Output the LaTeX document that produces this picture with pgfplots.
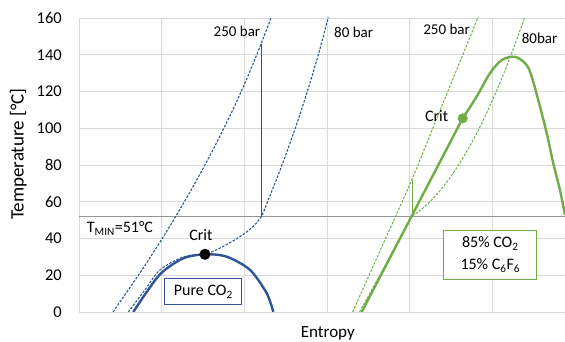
\documentclass[border=0pt]{standalone}
\usepackage{pgfplots}
\pgfplotsset{compat=1.18}
\usepackage{fontspec}
\setmainfont{Carlito}
\definecolor{cblue}{RGB}{47,85,151}
\definecolor{cgreen}{RGB}{112,173,71}
\definecolor{cgrid}{RGB}{217,217,217}
\definecolor{ctmin}{RGB}{150,150,150}
\begin{document}
\begin{tikzpicture}
\begin{axis}[
  scale only axis, width=486pt, height=294pt,
  xmin=0, xmax=5.88, ymin=0, ymax=160,
  xtick={0,1,2,3,4,5}, xticklabels={},
  ytick={0,20,...,160},
  grid=major, major grid style={cgrid, line width=0.9pt},
  axis line style={draw=none},
  major tick length=0pt,
  /pgf/number format/assume math mode=true,
  tick label style={font=\fontsize{16.5}{19}\selectfont},
  yticklabel style={anchor=east, inner sep=0pt, xshift=-17pt},
  ylabel={Temperature [°C]},
  xlabel={Entropy},
  every axis y label/.style={at={(axis description cs:-0.125,0.537)}, rotate=90, anchor=center, font=\fontsize{19}{22}\selectfont},
  every axis x label/.style={at={(axis description cs:0.512,-0.0714)}, anchor=center, font=\fontsize{17}{20}\selectfont},
]
% T min line
\addplot[ctmin, line width=1pt] coordinates {(0,52.2) (5.88,52.2)};

% Pure CO2: 250 bar isobar
\addplot[cblue, line width=1.1pt, dash pattern=on 2.5pt off 1.5pt, smooth] coordinates {
  (0.411,0) (0.745,21.8) (1.056,43.5) (1.343,65.3) (1.607,87.1) (1.848,108.8) (2.065,130.6) (2.259,152.4) (2.322,160)};
% Pure CO2: 80 bar isobar
\addplot[cblue, line width=1.1pt, dash pattern=on 2.5pt off 1.5pt, smooth] coordinates {
  (0.596,0) (0.798,12) (0.98,22.9) (1.258,29.9) (1.524,31.6) (1.645,33.5) (1.787,36.7) (1.911,40.0) (2.020,43.3) (2.117,47.1) (2.210,52.2) (2.290,61.0) (2.424,76.2) (2.558,92.5) (2.683,108.8) (2.798,125.2) (2.905,141.5) (3.016,160.4)};
% Pure CO2: saturation dome
\addplot[cblue, line width=2.4pt, smooth] coordinates {
  (0.657,0) (0.81,10.3) (1.0,21.4) (1.262,29.2) (1.524,31.4) (1.787,30.1) (2.069,22.9) (2.271,10.2) (2.351,0)};
% Pure CO2: expansion
\addplot[cblue, line width=1pt] coordinates {(2.205,52.2) (2.205,145.7)};
% Pure CO2 critical point
\addplot[only marks, mark=*, mark size=5.3pt, black] coordinates {(1.524,31.4)};

% Mixture: 250 bar isobar
\addplot[cgreen, line width=1pt, dash pattern=on 2.5pt off 1.5pt, smooth] coordinates {
  (3.311,0) (3.674,36.5) (4.025,71.8) (4.337,106.3) (4.593,134.4) (4.831,160.7)};
% Mixture: 80 bar isobar
\addplot[cgreen, line width=1pt, dash pattern=on 2.5pt off 1.5pt] coordinates {
  (3.395,0) (4.032,52.2)};
\addplot[cgreen, line width=1pt, dash pattern=on 2.5pt off 1.5pt, smooth] coordinates {
  (4.032,52.24) (4.118,54.97) (4.217,58.78) (4.333,64.22) (4.459,71.29) (4.585,79.46) (4.729,90.34) (4.886,103.95) (5.051,120.27) (5.222,139.32) (5.390,160.0)};
% Mixture: saturation dome
\addplot[cgreen, line width=2.4pt] coordinates {(3.42,0) (4.642,105.4)};
\addplot[cgreen, line width=2.4pt, smooth] coordinates {
  (4.642,105.4) (4.811,117.2) (4.972,129.9) (5.114,137.1) (5.275,138.9) (5.416,134.4) (5.496,125.3) (5.650,99.0) (5.738,80.9) (5.819,66.4) (5.880,52.8)};
% Mixture: expansion
\addplot[cgreen, line width=1pt] coordinates {(4.032,52.2) (4.032,72)};
% Mixture critical point
\addplot[only marks, mark=*, mark size=4.8pt, cgreen] coordinates {(4.642,105.4)};

% Labels
\node[font=\fontsize{15}{18}\selectfont] at (axis cs:1.911,152.5) {250 bar};
\node[font=\fontsize{15}{18}\selectfont] at (axis cs:3.323,152.2) {80 bar};
\node[font=\fontsize{15}{18}\selectfont] at (axis cs:4.448,153.9) {250 bar};
\node[font=\fontsize{15}{18}\selectfont] at (axis cs:5.573,149) {80bar};
\node[font=\fontsize{16}{19}\selectfont] at (axis cs:1.474,41.9) {Crit};
\node[font=\fontsize{16}{19}\selectfont] at (axis cs:4.327,106.8) {Crit};
\node[font=\fontsize{16}{19}\selectfont, anchor=west, inner sep=0pt] at (axis cs:0.093,45.5) {T\textsubscript{MIN}=51°C};
\node[draw=cblue, line width=1pt, fill=white, minimum width=76.7pt, minimum height=26.7pt, inner sep=0pt,
  font=\fontsize{16}{19}\selectfont] at (axis cs:1.504,11.1) {Pure CO\textsubscript{2}};
\node[draw=cgreen, line width=1pt, fill=white, minimum width=92.7pt, minimum height=49.3pt, inner sep=0pt, align=center,
  font=\fontsize{16}{22}\selectfont] at (axis cs:4.976,31.2) {85\% CO\textsubscript{2}\\15\% C\textsubscript{6}F\textsubscript{6}};
\end{axis}
\pgfresetboundingbox
\path (-79pt,-30pt) rectangle (486pt,312pt);
\end{tikzpicture}
\end{document}
